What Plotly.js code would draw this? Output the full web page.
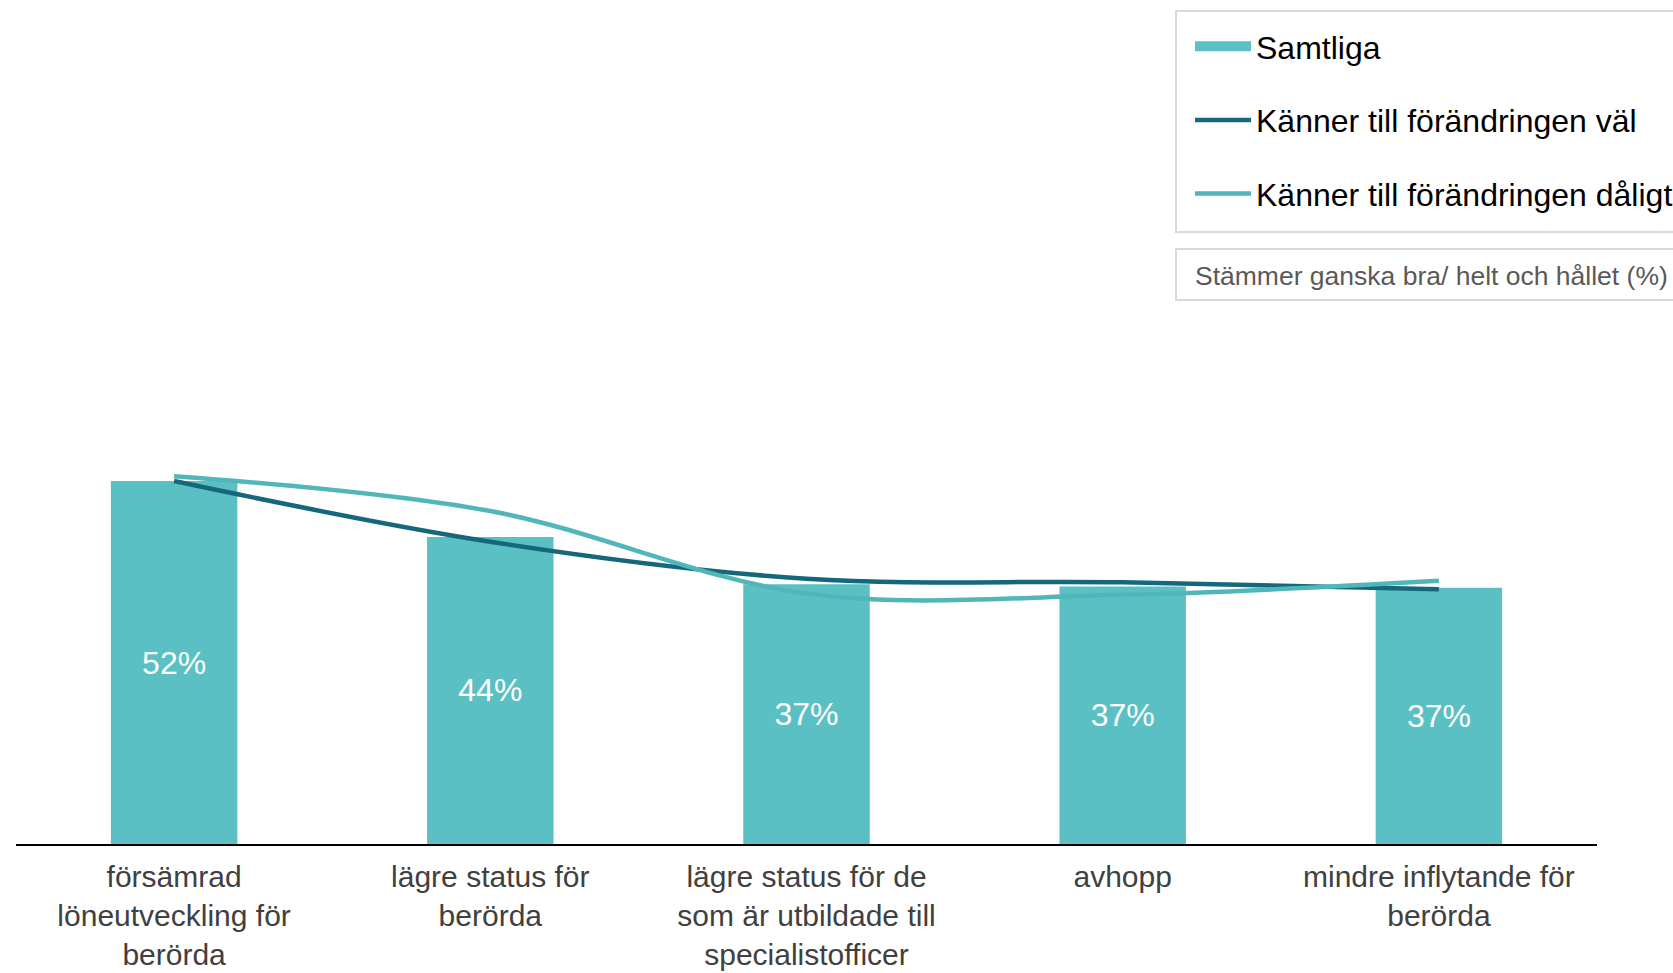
<!DOCTYPE html>
<html>
<head>
<meta charset="utf-8">
<script src="https://cdn.plot.ly/plotly-3.0.1.min.js"></script>
<style>
  html, body { margin: 0; padding: 0; background: #ffffff; }
  #chart { width: 1673px; height: 973px; }
</style>
</head>
<body>
<div id="chart"></div>
<script>
// ---- data ----
const categories = [
  'försämrad<br>löneutveckling för<br>berörda',
  'lägre status för<br>berörda',
  'lägre status för de<br>som är utbildade till<br>specialistofficer',
  'avhopp',
  'mindre inflytande för<br>berörda'
];
const samtliga = [52, 44, 37.2, 36.9, 36.7];
const kannerVal = [52.0, 43.3, 38.0, 37.5, 36.5];
const kannerDaligt = [52.7, 47.7, 35.9, 35.7, 37.7];
const seriesNames = ['Samtliga', 'Känner till förändringen väl', 'Känner till förändringen dåligt'];
const noteText = 'Stämmer ganska bra/ helt och hållet (%)';

// ---- styles ----
const barColor = '#5bc0c4';
const darkLine = '#15687b';
const lightLine = '#50b6ba';
const FONT = 'Liberation Sans, Arial, sans-serif';
const W = 1673, H = 973;

const barLabels = samtliga.map(v => Math.round(v) + '%');

const traces = [
  {
    type: 'bar', x: categories, y: samtliga,
    name: seriesNames[0], legendgroup: 'g1', showlegend: false,
    marker: { color: barColor },
    text: barLabels, texttemplate: '%{text}',
    textposition: 'inside', insidetextanchor: 'middle',
    textfont: { color: '#ffffff', size: 32, family: FONT },
    constraintext: 'none', hoverinfo: 'skip'
  },
  {
    type: 'scatter', mode: 'lines', x: [null], y: [null],
    name: seriesNames[0], legendgroup: 'g1',
    line: { color: barColor, width: 17 }, hoverinfo: 'skip'
  },
  {
    type: 'scatter', mode: 'lines', x: categories, y: kannerVal,
    name: seriesNames[1], legendgroup: 'g2',
    line: { color: darkLine, width: 4.5, shape: 'spline', smoothing: 1 }
  },
  {
    type: 'scatter', mode: 'lines', x: categories, y: kannerDaligt,
    name: seriesNames[2], legendgroup: 'g3',
    line: { color: lightLine, width: 4.5, shape: 'spline', smoothing: 1 }
  }
];

const mL = 16, mR = 76, mT = 146, mB = 129;
const plotW = W - mL - mR, plotH = H - mT - mB;
const px2paperX = px => (px - mL) / plotW;
const px2paperY = py => (H - mB - py) / plotH;

const layout = {
  width: W, height: H,
  margin: { l: mL, r: mR, t: mT, b: mB, autoexpand: false },
  paper_bgcolor: '#ffffff', plot_bgcolor: '#ffffff',
  font: { family: FONT, color: '#000000' },
  bargap: 0.6,
  showlegend: true,
  xaxis: {
    type: 'category', range: [-0.5, 4.5],
    showline: true, linecolor: '#000000', linewidth: 2,
    showgrid: false, zeroline: false, ticks: '',
    ticklabelstandoff: 5,
    tickfont: { size: 30, color: '#404040', family: FONT },
    fixedrange: true
  },
  yaxis: {
    range: [0, 100], visible: false, fixedrange: true
  },
  legend: {
    xref: 'container', yref: 'container',
    x: 1190 / W, y: 1 - 19 / H, xanchor: 'left', yanchor: 'top',
    bgcolor: 'rgba(0,0,0,0)', borderwidth: 0,
    font: { size: 32, color: '#000000', family: FONT },
    itemwidth: 56, tracegroupgap: 29,
    traceorder: 'grouped'
  },
  shapes: [
    { type: 'rect', xref: 'paper', yref: 'paper',
      x0: px2paperX(1176), x1: px2paperX(1700), y0: px2paperY(232), y1: px2paperY(11),
      line: { color: '#d9d9d9', width: 2 }, fillcolor: 'rgba(0,0,0,0)', layer: 'below' },
    { type: 'rect', xref: 'paper', yref: 'paper',
      x0: px2paperX(1176), x1: px2paperX(1700), y0: px2paperY(300), y1: px2paperY(249),
      line: { color: '#d9d9d9', width: 2 }, fillcolor: 'rgba(0,0,0,0)', layer: 'below' }
  ],
  annotations: [
    { xref: 'paper', yref: 'paper', x: px2paperX(1193), y: px2paperY(276),
      xanchor: 'left', yanchor: 'middle', showarrow: false,
      text: noteText, font: { size: 26.5, color: '#595959', family: FONT } }
  ]
};

Plotly.newPlot('chart', traces, layout, { displayModeBar: false, staticPlot: true });
</script>
</body>
</html>
